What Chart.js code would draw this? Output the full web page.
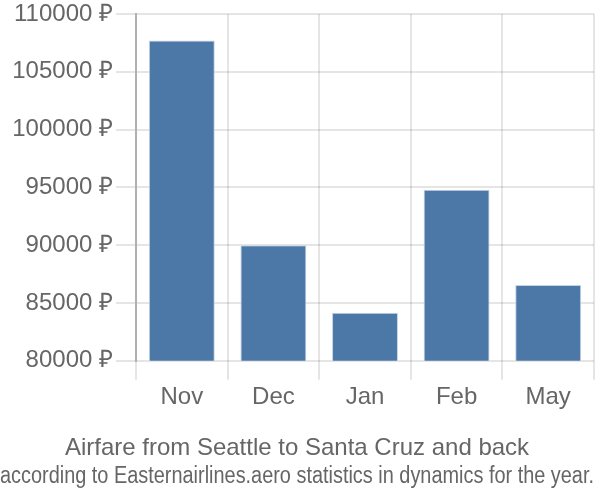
<!DOCTYPE html>
<html>
<head>
<meta charset="utf-8">
<script src="https://cdn.jsdelivr.net/npm/chart.js@4/dist/chart.umd.min.js"></script>
<style>
html,body{margin:0;padding:0;background:#fff;}
#wrap{width:600px;height:500px;}
</style>
</head>
<body>
<div id="wrap"><canvas id="c" width="600" height="500"></canvas></div>
<script>
const categories = ["Nov", "Dec", "Jan", "Feb", "May"];
const prices = [107700, 90000, 84150, 94800, 86550];
const yTicks = [80000, 85000, 90000, 95000, 100000, 105000, 110000];
const titleText = "Airfare from Seattle to Santa Cruz and back";
const subtitleText = "according to Easternairlines.aero statistics in dynamics for the year.";
const currency = "₽";

const FONT = "'Liberation Sans', Arial, sans-serif";

new Chart(document.getElementById('c'), {
  type: 'bar',
  data: {
    labels: categories,
    datasets: [{
      data: prices,
      backgroundColor: '#4c78a8',
      borderColor: '#c5d3e3',
      borderWidth: 1,
      barPercentage: 0.72,
      categoryPercentage: 1.0
    }]
  },
  options: {
    responsive: false,
    animation: false,
    devicePixelRatio: 1,
    layout: { padding: { top: 0, right: 6, left: 0, bottom: 0 } },
    plugins: {
      legend: { display: false },
      tooltip: { enabled: false },
      title: {
        display: true,
        text: titleText,
        position: 'bottom',
        weight: 1000,
        color: '#666',
        font: { family: FONT, size: 24, weight: 'normal' },
        padding: { top: 19, bottom: 0 }
      },
      subtitle: {
        display: true,
        text: subtitleText,
        position: 'bottom',
        weight: 2000,
        color: '#666',
        font: { family: FONT, size: 23, weight: 'normal' },
        padding: { top: 0, bottom: 10 }
      }
    },
    scales: {
      x: {
        grid: {
          color: 'rgba(0,0,0,0.1)',
          lineWidth: 2,
          tickLength: 19,
          offset: true
        },
        border: { display: false },
        ticks: {
          color: '#666',
          font: { family: FONT, size: 24 },
          padding: 3
        }
      },
      y: {
        min: yTicks[0],
        max: yTicks[yTicks.length - 1],
        afterBuildTicks: (s) => { s.ticks = yTicks.map(v => ({ value: v })); },
        afterFit: (s) => { s.width = 136; s.paddingTop = 14; s.paddingBottom = 0; },
        grid: {
          color: 'rgba(0,0,0,0.1)',
          lineWidth: 2,
          tickLength: 20
        },
        border: { display: true, color: '#b0b0b0', width: 2 },
        ticks: {
          color: '#666',
          font: { family: FONT, size: 24 },
          padding: 3,
          callback: (v) => v + ' ' + currency
        }
      }
    }
  }
});
</script>
</body>
</html>
